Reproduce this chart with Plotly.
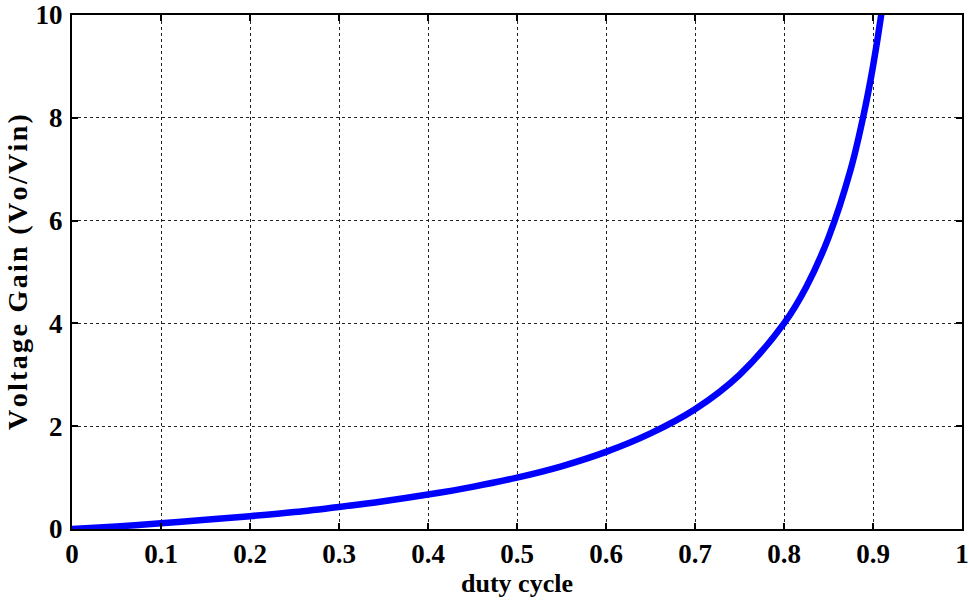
import plotly.graph_objects as go

duty = [0.0, 0.05, 0.1, 0.15, 0.2, 0.25, 0.3, 0.35, 0.4, 0.45, 0.5, 0.55, 0.6, 0.65,
        0.7, 0.75, 0.8, 0.825, 0.85, 0.875, 0.89, 0.9, 0.91, 0.915]
gain = [0.0, 0.05, 0.11, 0.18, 0.25, 0.33, 0.43, 0.54, 0.67, 0.82, 1.0, 1.22, 1.5, 1.86,
        2.33, 3.0, 4.0, 4.71, 5.67, 7.0, 8.1, 9.0, 10.1, 10.8]

x_ticks = [0, 0.1, 0.2, 0.3, 0.4, 0.5, 0.6, 0.7, 0.8, 0.9, 1]
x_tick_text = ["0", "0.1", "0.2", "0.3", "0.4", "0.5", "0.6", "0.7", "0.8", "0.9", "1"]
y_ticks = [0, 2, 4, 6, 8, 10]

x_title = "duty cycle"
y_title = "Voltage Gain (Vo/Vin)"

def spaced(s, sep="\u200a"):
    return sep.join(list(s))

font_fam = "Liberation Serif"

fig = go.Figure()
fig.add_trace(go.Scatter(x=duty, y=gain, mode="lines",
                         line=dict(color="#0000ff", width=6.5, shape="spline"),
                         showlegend=False, cliponaxis=True))

axis_common = dict(
    showline=True, linecolor="black", linewidth=2, mirror="ticks",
    ticks="inside", ticklen=6, tickcolor="black", tickwidth=1.5,
    showgrid=True, gridcolor="#222222", gridwidth=1, griddash="3px,3px",
    zeroline=False, automargin=False,
    tickfont=dict(family=font_fam, size=27, color="black", weight="bold"),
)

fig.update_xaxes(range=[0, 1], tickvals=x_ticks, ticktext=x_tick_text,
                 title=dict(text="<b>" + x_title + "</b>", standoff=4,
                            font=dict(family=font_fam, size=26, color="black")),
                 **axis_common)
fig.update_yaxes(range=[0, 10], tickvals=y_ticks, ticklabelstandoff=2,
                 title=dict(text="<b>" + spaced(y_title) + "</b>", standoff=0,
                            font=dict(family=font_fam, size=28, color="black")),
                 **axis_common)

fig.update_layout(
    width=969, height=602,
    margin=dict(l=72, r=7, t=15, b=73),
    plot_bgcolor="white", paper_bgcolor="white",
)

fig.write_html("out.html")
